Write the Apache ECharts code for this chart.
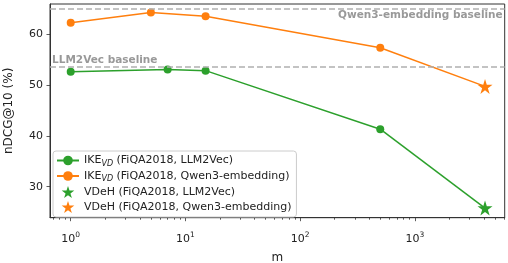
<!DOCTYPE html>
<html><head><meta charset="utf-8">
<script src="https://cdn.jsdelivr.net/npm/echarts@6/dist/echarts.min.js"></script>
<style>html,body{margin:0;padding:0;background:#fff}#c{width:508px;height:263px}</style>
</head><body><div id="c"></div>
<script>
// ---- data ----
const mLLM = [1, 7, 15, 500];
const ikeLLM = [52.6, 53.0, 52.8, 41.3];
const mQwen = [1, 5, 15, 500];
const ikeQwen = [62.2, 64.2, 63.5, 57.3];
const vdehM = [4096];
const vdehLLM = [25.8];
const vdehQwen = [49.7];
const baselineLLM = 53.6;
const baselineQwen = 64.9;
const xMajorTicks = [1, 10, 100, 1000];
const xMinorTicks = [0.7, 0.8, 0.9, 2, 3, 4, 5, 6, 7, 8, 9, 20, 30, 40, 50, 60, 70, 80, 90,
  200, 300, 400, 500, 600, 700, 800, 900, 2000, 3000, 4000, 5000, 6000];
const yTicks = [30, 40, 50, 60];
const names = ['IKE_VD (FiQA2018, LLM2Vec)', 'IKE_VD (FiQA2018, Qwen3-embedding)',
  'VDeH (FiQA2018, LLM2Vec)', 'VDeH (FiQA2018, Qwen3-embedding)'];

const GREEN = '#2ca02c', ORANGE = '#ff7f0e';
const FONT = 'DejaVu Sans';
const STAR = 'path://M0,-10 L2.25,-3.1 L9.51,-3.09 L3.64,1.18 L5.88,8.09 L0,3.82 L-5.88,8.09 L-3.64,1.18 L-9.51,-3.09 L-2.25,-3.1 Z';
const zip = (xs, ys) => xs.map((x, i) => [x, ys[i]]);

const chart = echarts.init(document.getElementById('c'), null, {renderer: 'canvas'});
const xMin = 0.66, xMax = 6081;
chart.setOption({
  animation: false,
  grid: {left: 50, right: 3.3, top: 4, bottom: 45.3, outerBoundsMode: 'none', show: true, borderColor: '#333', borderWidth: 1, backgroundColor: 'transparent'},
  xAxis: [{
    type: 'log', logBase: 10, min: xMin, max: xMax,
    name: 'm', nameLocation: 'middle', nameGap: 34,
    nameTextStyle: {fontFamily: FONT, fontSize: 12, color: '#222'},
    axisLine: {show: true, lineStyle: {color: '#333', width: 1}},
    axisTick: {show: true, inside: false, length: 3.5, lineStyle: {color: '#333', width: 0.8}, customValues: xMajorTicks},
    splitLine: {show: false},
    axisLabel: {
      customValues: xMajorTicks,
      margin: 13, color: '#222', fontFamily: FONT,
      formatter: v => '{b|10}{s|' + Math.round(Math.log10(v)) + '}',
      rich: {b: {fontSize: 11, fontFamily: FONT, color: '#222', verticalAlign: 'bottom', lineHeight: 14},
             s: {fontSize: 7.5, fontFamily: FONT, color: '#222', verticalAlign: 'top', lineHeight: 14}}
    }
  }, {
    type: 'log', logBase: 10, min: xMin, max: xMax, position: 'bottom',
    axisLine: {show: false},
    axisTick: {show: true, length: 2, lineStyle: {color: '#333', width: 0.8}, customValues: xMinorTicks},
    axisLabel: {show: false},
    splitLine: {show: false}
  }],
  yAxis: {
    type: 'value', min: 23.91, max: 65.89,
    name: 'nDCG@10 (%)', nameLocation: 'middle', nameGap: 35,
    nameTextStyle: {fontFamily: FONT, fontSize: 12, color: '#222'},
    axisLine: {show: true, lineStyle: {color: '#333', width: 1}},
    axisTick: {show: true, length: 3.5, lineStyle: {color: '#333', width: 0.8}, customValues: yTicks},
    axisLabel: {customValues: yTicks, margin: 7, fontFamily: FONT, fontSize: 11, color: '#222'},
    splitLine: {show: false}
  },
  legend: {
    left: 53, top: 151, orient: 'vertical',
    itemWidth: 22, itemHeight: 12, itemGap: 3,
    padding: [4, 5, 4, 3],
    backgroundColor: 'rgba(255,255,255,0.8)', borderColor: '#ccc', borderWidth: 1, borderRadius: 3,
    data: [
      {name: names[0]}, {name: names[1]},
      {name: names[2], icon: STAR, itemStyle: {color: GREEN, opacity: 1}},
      {name: names[3], icon: STAR, itemStyle: {color: ORANGE, opacity: 1}}
    ],
    formatter: n => {
      if (n.indexOf('IKE_VD') === 0) return '{n|IKE}{s|VD}{n|' + n.slice(6) + '}';
      return '{n|' + n + '}';
    },
    textStyle: {
      fontFamily: FONT, fontSize: 11, color: '#222',
      rich: {n: {fontFamily: FONT, fontSize: 11, color: '#222', verticalAlign: 'middle', lineHeight: 14},
             s: {fontFamily: FONT, fontSize: 8, fontStyle: 'italic', color: '#222', verticalAlign: 'bottom', lineHeight: 14}}
    }
  },
  series: [
    {name: names[0], type: 'line', data: zip(mLLM, ikeLLM), color: GREEN,
     symbol: 'circle', symbolSize: 8, lineStyle: {width: 1.5, color: GREEN}, itemStyle: {color: GREEN},
     markLine: {silent: true, symbol: 'none',
       lineStyle: {type: [6, 3], color: '#b0b0b0', width: 1.5},
       data: [{yAxis: baselineLLM, label: {show: true, position: 'insideStartTop', formatter: 'LLM2Vec baseline', distance: [2, 1],
          color: '#999', fontWeight: 'bold', fontSize: 10.5, fontFamily: FONT}}]}},
    {name: names[1], type: 'line', data: zip(mQwen, ikeQwen), color: ORANGE,
     symbol: 'circle', symbolSize: 8, lineStyle: {width: 1.5, color: ORANGE}, itemStyle: {color: ORANGE},
     markLine: {silent: true, symbol: 'none',
       lineStyle: {type: [6, 3], color: '#b0b0b0', width: 1.5},
       data: [{yAxis: baselineQwen, label: {show: true, position: 'insideEndBottom', formatter: 'Qwen3-embedding baseline', distance: [2, 1],
          color: '#999', fontWeight: 'bold', fontSize: 10.5, fontFamily: FONT}}]}},
    {name: names[2], type: 'scatter', data: zip(vdehM, vdehLLM), symbol: STAR, symbolSize: 15, itemStyle: {color: GREEN, opacity: 1}, z: 5},
    {name: names[3], type: 'scatter', data: zip(vdehM, vdehQwen), symbol: STAR, symbolSize: 15, itemStyle: {color: ORANGE, opacity: 1}, z: 5},
    {name: names[0], type: 'line', data: [[mLLM[3], ikeLLM[3]], [vdehM[0], vdehLLM[0]]], symbol: 'none', lineStyle: {width: 1.5, color: GREEN}, z: 1},
    {name: names[1], type: 'line', data: [[mQwen[3], ikeQwen[3]], [vdehM[0], vdehQwen[0]]], symbol: 'none', lineStyle: {width: 1.5, color: ORANGE}, z: 1}
  ]
});
</script></body></html>
